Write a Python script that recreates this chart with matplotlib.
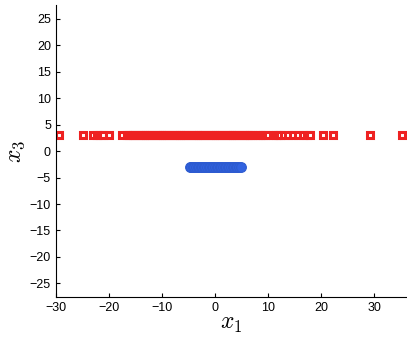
import matplotlib
matplotlib.use("Agg")
import matplotlib.pyplot as plt

plt.rcParams['font.family'] = ['Liberation Sans', 'DejaVu Sans']
plt.rcParams['mathtext.fontset'] = 'cm'

# red class (x1 values, all at x3 = 3)
red_x1 = [-29.4, -24.9, -23.0, -22.3, -21.7, -21.1, -20.0, -17.6, -16.6, -16.2,
          -15.8, -15.4, -15.0, -14.6, -14.2, -13.8, -13.4, -13.0, -12.6, -12.2,
          -11.8, -11.4, -11.0, -10.6, -10.2, -9.8, -9.4, -9.0, -8.6, -8.2,
          -7.8, -7.4, -7.0, -6.6, -6.2, -5.8, -5.4, -5.0, -4.6, -4.2, -3.8,
          -3.4, -3.0, -2.6, -2.2, -1.8, -1.4, -1.0, -0.6, -0.2, 0.2, 0.6, 1.0,
          1.4, 1.8, 2.2, 2.6, 3.0, 3.4, 3.8, 4.2, 4.6, 5.0, 5.4, 5.8, 6.2,
          6.6, 7.0, 7.5, 8.0, 8.5, 9.0, 9.5, 10.0, 10.9, 11.4, 11.9, 12.3,
          13.0, 13.8, 14.7, 15.6, 16.5, 17.3, 17.8, 20.3, 22.2, 29.1, 35.3]
red_x3 = [3.0] * len(red_x1)

# blue class (x1 values, all at x3 = -3)
blue_x1 = [-4.8, -4.5, -4.2, -3.9, -3.6, -3.3, -3.0, -2.7, -2.4, -2.1, -1.8,
           -1.5, -1.2, -0.9, -0.6, -0.3, 0.0, 0.3, 0.6, 0.9, 1.2, 1.5, 1.8,
           2.1, 2.4, 2.7, 3.0, 3.3, 3.6, 3.9, 4.2, 4.5, 4.8]
blue_x3 = [-3.0] * len(blue_x1)

x_ticks = [-30, -20, -10, 0, 10, 20, 30]
y_ticks = [-25, -20, -15, -10, -5, 0, 5, 10, 15, 20, 25]

fig = plt.figure(figsize=(4.07, 3.40), dpi=100)
ax = fig.add_axes([0.137, 0.126, 0.861, 0.859])

ax.plot(blue_x1, blue_x3, 'o', color='#3263e0', markeredgecolor='#2d5bd0',
        markersize=7, markeredgewidth=0.8)
ax.plot(red_x1, red_x3, 's', markerfacecolor='white', markeredgecolor='#ee2222',
        markersize=4.6, markeredgewidth=2.2)

ax.set_xlim(-30, 36)
ax.set_ylim(-27.6, 27.6)
ax.set_xticks(x_ticks)
ax.set_yticks(y_ticks)
ax.tick_params(direction='in', length=3, width=0.8, labelsize=9, colors='black')
ax.spines['top'].set_visible(False)
ax.spines['right'].set_visible(False)

ax.set_xlabel('$x_1$', fontsize=17, labelpad=-1)
ax.set_ylabel('$x_3$', fontsize=17, labelpad=2)

fig.savefig('out.png', dpi=100)
